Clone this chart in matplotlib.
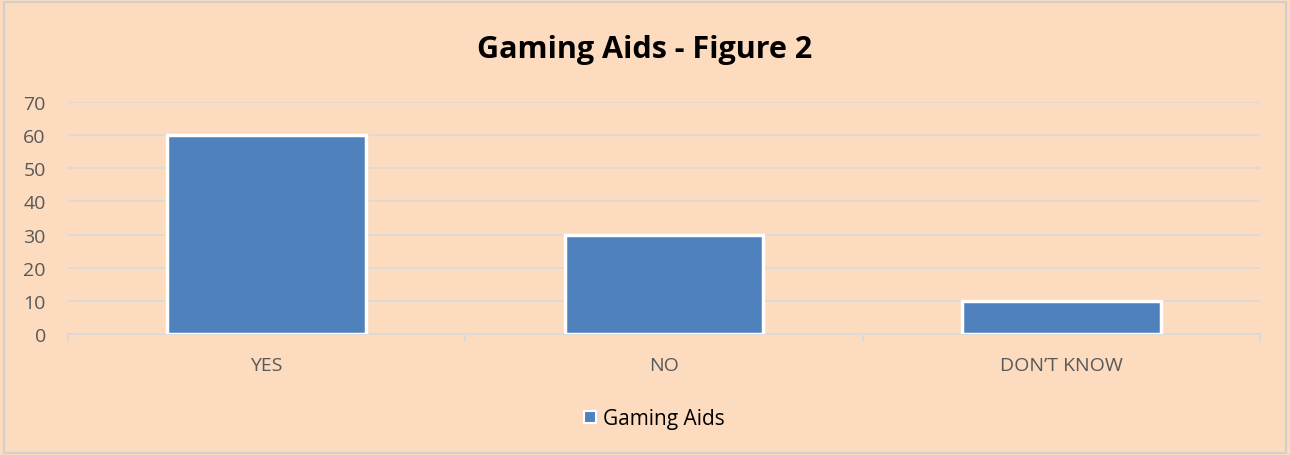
import matplotlib
matplotlib.use("Agg")
import matplotlib.pyplot as plt
from matplotlib.patches import Rectangle
from matplotlib.lines import Line2D

categories = ["YES", "NO", "DON\u2019T KNOW"]
values = [60, 30, 10]
series_name = "Gaming Aids"
title = "Gaming Aids - Figure 2"
yticks = [0, 10, 20, 30, 40, 50, 60, 70]

bg = "#FCDBBF"
bar_color = "#4F81BD"
grid_color = "#D9D9D9"
text_gray = "#595959"

plt.rcParams['font.family'] = ['Open Sans', 'DejaVu Sans']

fig = plt.figure(figsize=(12.9, 4.56), dpi=100)
fig.patch.set_facecolor(bg)
fig.patches.append(Rectangle((0.003, 0.005), 0.994, 0.988, transform=fig.transFigure,
                             fill=False, edgecolor="#D0D0D0", linewidth=1.5))

ax = fig.add_axes([68/1290, 1-335/456, (1260-68)/1290, (335-103)/456])
ax.set_facecolor(bg)
x = list(range(len(categories)))
ax.bar(x, values, width=0.5, color=bar_color, edgecolor="white", linewidth=2.5, zorder=3)
ax.set_xlim(-0.5, len(categories) - 0.5)
ax.set_ylim(0, 70)
ax.set_yticks(yticks)
ax.set_yticklabels([str(v) for v in yticks], fontsize=14, color=text_gray)
ax.set_xticks(x)
ax.set_xticklabels(categories, fontsize=14, color=text_gray)
ax.tick_params(axis='x', length=0, pad=16)
ax.tick_params(axis='y', length=0, pad=16)
ax.grid(axis='y', color=grid_color, linewidth=1.2, zorder=0)
ax.set_axisbelow(True)
for s in ["left", "right", "top"]:
    ax.spines[s].set_visible(False)
ax.spines["bottom"].set_color(grid_color)
ax.spines["bottom"].set_linewidth(1.2)
# category boundary ticks
ax.set_xticks([i - 0.5 for i in range(len(categories) + 1)], minor=True)
ax.tick_params(axis='x', which='minor', length=6, color=grid_color, width=1.2)

fig.text(0.5, 1-50/456, title, ha='center', va='center', fontsize=22, fontweight='bold', color='black')

handle = Line2D([], [], marker='s', linestyle='None', markersize=9,
                markerfacecolor=bar_color, markeredgecolor='white', markeredgewidth=1.5)
fig.legend([handle], [series_name], loc='center', bbox_to_anchor=(652/1290, 1-420/456),
           frameon=False, fontsize=15, handletextpad=0.1, handlelength=1.0)

fig.savefig("out.png", dpi=100, facecolor=bg)
